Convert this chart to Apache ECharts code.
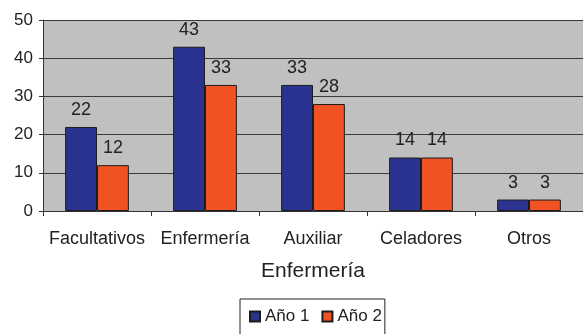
<!DOCTYPE html>
<html>
<head>
<meta charset="utf-8">
<script src="https://cdn.jsdelivr.net/npm/echarts@6/dist/echarts.min.js"></script>
<style>
  html, body { margin: 0; padding: 0; background: #ffffff; }
  #chart { width: 583px; height: 334px; }
</style>
</head>
<body>
<div id="chart"></div>
<script>
// Staff groups and counts per year
const categories = ['Facultativos', 'Enfermería', 'Auxiliar', 'Celadores', 'Otros'];
const year1 = [22, 43, 33, 14, 3];
const year2 = [12, 33, 28, 14, 3];
const seriesNames = ['Año 1', 'Año 2'];
const axisTitle = 'Enfermería';
const yTicks = { min: 0, max: 50, interval: 10 };

const FONT = '"Liberation Sans", Arial, sans-serif';
const TEXT = '#222222';

const chart = echarts.init(document.getElementById('chart'), null, { renderer: 'canvas' });

function barSeries(name, data, color) {
  return {
    name: name,
    type: 'bar',
    data: data,
    barGap: '0%',
    barCategoryGap: '41%',
    itemStyle: { color: color, borderColor: '#1c1c1c', borderWidth: 1 },
    label: {
      show: true,
      position: 'top',
      distance: 8,
      color: TEXT,
      fontFamily: FONT,
      fontSize: 18
    },
    emphasis: { disabled: true }
  };
}

chart.setOption({
  animation: false,
  backgroundColor: '#ffffff',
  grid: {
    left: 43, right: 0, top: 20, bottom: 123,
    show: true,
    backgroundColor: '#c0c0c0',
    borderWidth: 0
  },
  legend: {
    data: seriesNames,
    left: 240,
    top: 299,
    orient: 'horizontal',
    itemWidth: 10,
    itemHeight: 10,
    itemGap: 12,
    padding: [9, 3, 24, 9],
    borderColor: '#222222',
    borderWidth: 1,
    icon: 'rect',
    textStyle: { color: TEXT, fontFamily: FONT, fontSize: 17 }
  },
  xAxis: {
    type: 'category',
    data: categories,
    name: axisTitle,
    nameLocation: 'middle',
    nameGap: 50,
    nameTextStyle: { color: TEXT, fontFamily: FONT, fontSize: 21 },
    axisLine: { lineStyle: { color: '#333333', width: 1 } },
    axisTick: { show: true, length: 5, alignWithLabel: false, lineStyle: { color: '#333333' } },
    axisLabel: { color: TEXT, fontFamily: FONT, fontSize: 18, margin: 19, interval: 0 },
    splitLine: { show: false }
  },
  yAxis: {
    type: 'value',
    min: yTicks.min,
    max: yTicks.max,
    interval: yTicks.interval,
    axisLine: { show: true, lineStyle: { color: '#333333', width: 1 } },
    axisTick: { show: true, length: 4, lineStyle: { color: '#333333' } },
    axisLabel: { color: TEXT, fontFamily: FONT, fontSize: 17, margin: 10 },
    splitLine: { show: true, lineStyle: { color: '#3a3a3a', width: 1 } }
  },
  series: [
    barSeries(seriesNames[0], year1, '#2b3391'),
    barSeries(seriesNames[1], year2, '#f05223')
  ]
});
</script>
</body>
</html>
